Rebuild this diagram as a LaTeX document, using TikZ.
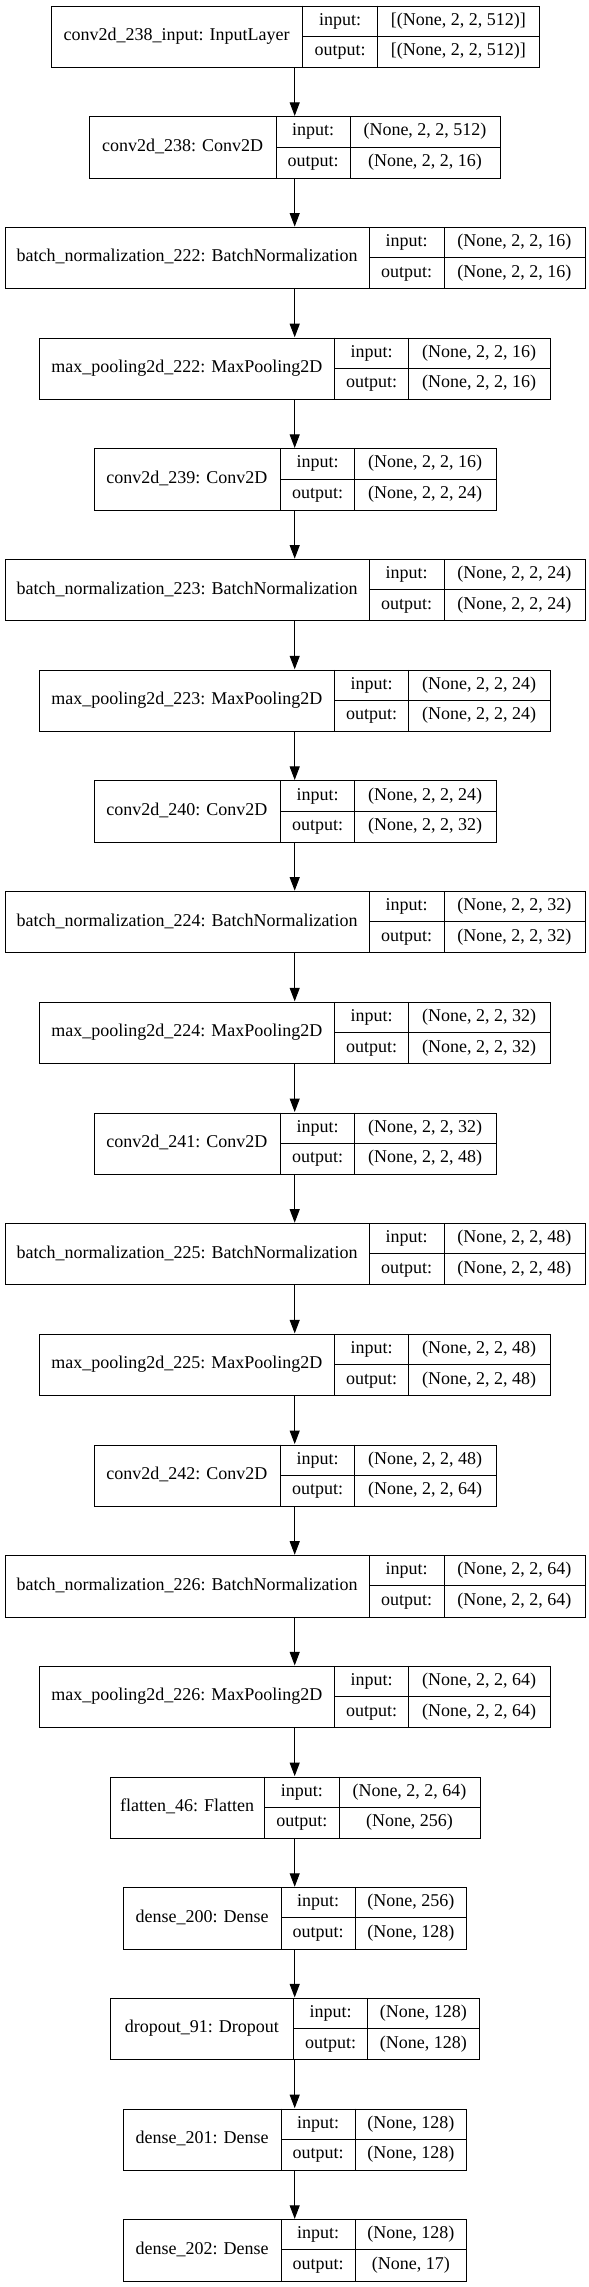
\documentclass[tikz,border=0pt]{standalone}
\usepackage{fontspec}
\setmainfont{Liberation Serif}
\usetikzlibrary{arrows.meta}
\newcommand\setgeom[4]{\def\gL{#1}\def\gA{#2}\def\gB{#3}\def\gR{#4}}
\def\tyinput{\setgeom{50.7}{302.7}{377.7}{539}}
\def\tyconvA{\setgeom{89.3}{276}{350.3}{499.7}}
\def\tyconv{\setgeom{93.6}{280.2}{354.8}{495.5}}
\def\tybn{\setgeom{4.7}{369.3}{444}{584.7}}
\def\tymp{\setgeom{39.3}{334.3}{408.7}{549.7}}
\def\tyflat{\setgeom{109.7}{264.3}{339.3}{479.7}}
\def\tydense{\setgeom{123.3}{281}{355.3}{466.3}}
\def\tydrop{\setgeom{110.3}{293.3}{367.7}{479}}
\newcommand\layerbox[6]{%
  #3%
  \pgfmathsetmacro\lyT{5.7+110.68*#2}%
  \pgfmathsetmacro\lyB{\lyT+61.3}%
  \pgfmathsetmacro\lyM{\lyT+30.65}%
  \pgfmathsetmacro\lyW{\gR-\gL}%
  \pgfmathsetmacro\lyCN{(\gL+\gA)/2}%
  \pgfmathsetmacro\lyCI{(\gA+\gB)/2}%
  \pgfmathsetmacro\lyCV{(\gB+\gR)/2}%
  \pgfmathsetmacro\lyYI{\lyT+15.3}%
  \pgfmathsetmacro\lyYO{\lyM+15.3}%
  \node[box, minimum width=\lyW pt, anchor=north west] (#1) at (\gL,\lyT) {};
  \draw[rule] (\gA,\lyT) -- (\gA,\lyB);
  \draw[rule] (\gB,\lyT) -- (\gB,\lyB);
  \draw[rule] (\gA,\lyM) -- (\gR,\lyM);
  \node[txt] (#1-n) at (\lyCN,\lyM) {#4};
  \node[txt] (#1-i) at (\lyCI,\lyYI) {input:};
  \node[txt] (#1-o) at (\lyCI,\lyYO) {output:};
  \node[txt] (#1-iv) at (\lyCV,\lyYI) {#5};
  \node[txt] (#1-ov) at (\lyCV,\lyYO) {#6};
}
\begin{document}
\begin{tikzpicture}[x=1pt,y=-1pt,
  box/.style={draw=black, line width=1pt, minimum height=61.3pt, inner sep=0pt, fill=white},
  rule/.style={draw=black, line width=1pt},
  txt/.style={font=\fontsize{18}{22}\selectfont, inner sep=0pt, text height=12.5pt, text depth=4pt},
  arr/.style={draw=black, line width=1pt, -{Triangle[length=13.5pt,width=10pt]}, shorten >=0.5pt}]
\useasboundingbox[fill=white] (0,0) rectangle (589,2287);
\coordinate (ax) at (294.7,0);
\layerbox{b0}{0}{\tyinput}{conv2d\_238\_input: InputLayer}{[(None, 2, 2, 512)]}{[(None, 2, 2, 512)]}
\layerbox{b1}{1}{\tyconvA}{conv2d\_238: Conv2D}{(None, 2, 2, 512)}{(None, 2, 2, 16)}
\layerbox{b2}{2}{\tybn}{batch\_normalization\_222: BatchNormalization}{(None, 2, 2, 16)}{(None, 2, 2, 16)}
\layerbox{b3}{3}{\tymp}{max\_pooling2d\_222: MaxPooling2D}{(None, 2, 2, 16)}{(None, 2, 2, 16)}
\layerbox{b4}{4}{\tyconv}{conv2d\_239: Conv2D}{(None, 2, 2, 16)}{(None, 2, 2, 24)}
\layerbox{b5}{5}{\tybn}{batch\_normalization\_223: BatchNormalization}{(None, 2, 2, 24)}{(None, 2, 2, 24)}
\layerbox{b6}{6}{\tymp}{max\_pooling2d\_223: MaxPooling2D}{(None, 2, 2, 24)}{(None, 2, 2, 24)}
\layerbox{b7}{7}{\tyconv}{conv2d\_240: Conv2D}{(None, 2, 2, 24)}{(None, 2, 2, 32)}
\layerbox{b8}{8}{\tybn}{batch\_normalization\_224: BatchNormalization}{(None, 2, 2, 32)}{(None, 2, 2, 32)}
\layerbox{b9}{9}{\tymp}{max\_pooling2d\_224: MaxPooling2D}{(None, 2, 2, 32)}{(None, 2, 2, 32)}
\layerbox{b10}{10}{\tyconv}{conv2d\_241: Conv2D}{(None, 2, 2, 32)}{(None, 2, 2, 48)}
\layerbox{b11}{11}{\tybn}{batch\_normalization\_225: BatchNormalization}{(None, 2, 2, 48)}{(None, 2, 2, 48)}
\layerbox{b12}{12}{\tymp}{max\_pooling2d\_225: MaxPooling2D}{(None, 2, 2, 48)}{(None, 2, 2, 48)}
\layerbox{b13}{13}{\tyconv}{conv2d\_242: Conv2D}{(None, 2, 2, 48)}{(None, 2, 2, 64)}
\layerbox{b14}{14}{\tybn}{batch\_normalization\_226: BatchNormalization}{(None, 2, 2, 64)}{(None, 2, 2, 64)}
\layerbox{b15}{15}{\tymp}{max\_pooling2d\_226: MaxPooling2D}{(None, 2, 2, 64)}{(None, 2, 2, 64)}
\layerbox{b16}{16}{\tyflat}{flatten\_46: Flatten}{(None, 2, 2, 64)}{(None, 256)}
\layerbox{b17}{17}{\tydense}{dense\_200: Dense}{(None, 256)}{(None, 128)}
\layerbox{b18}{18}{\tydrop}{dropout\_91: Dropout}{(None, 128)}{(None, 128)}
\layerbox{b19}{19}{\tydense}{dense\_201: Dense}{(None, 128)}{(None, 128)}
\layerbox{b20}{20}{\tydense}{dense\_202: Dense}{(None, 128)}{(None, 17)}
\foreach \a/\b in {b0/b1,b1/b2,b2/b3,b3/b4,b4/b5,b5/b6,b6/b7,b7/b8,b8/b9,b9/b10,b10/b11,b11/b12,b12/b13,b13/b14,b14/b15,b15/b16,b16/b17,b17/b18,b18/b19,b19/b20}
  \draw[arr] (\a.south -| ax) -- (\b.north -| ax);
\end{tikzpicture}
\end{document}
